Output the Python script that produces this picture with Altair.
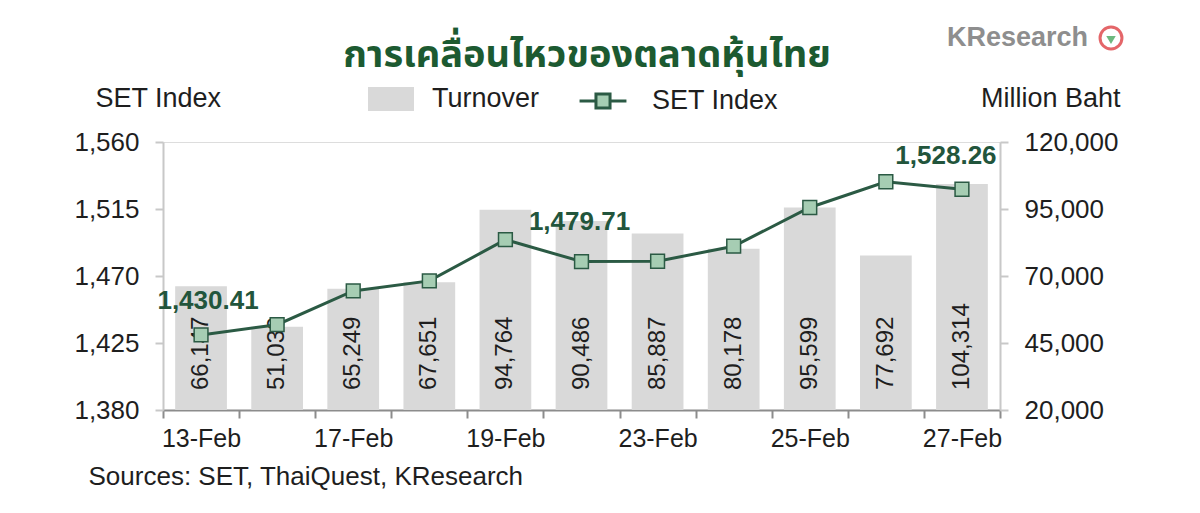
import altair as alt
import pandas as pd

dates = ["13-Feb", "16-Feb", "17-Feb", "18-Feb", "19-Feb", "20-Feb",
         "23-Feb", "24-Feb", "25-Feb", "26-Feb", "27-Feb"]
turnover = [66147, 51039, 65249, 67651, 94764, 90486, 85887, 80178, 95599, 77692, 104314]
set_index = [1430.41, 1437.3, 1460.0, 1466.7, 1494.4, 1479.71, 1479.9, 1490.0, 1516.0, 1533.3, 1528.26]
shown_dates = ["13-Feb", "17-Feb", "19-Feb", "23-Feb", "25-Feb", "27-Feb"]
left_ticks = [1380, 1425, 1470, 1515, 1560]
right_ticks = [20000, 45000, 70000, 95000, 120000]
annotated_dates = ["13-Feb", "20-Feb", "27-Feb"]

df = pd.DataFrame({
    "date": dates,
    "turnover": turnover,
    "set": set_index,
})
df["turnover_label"] = [f"{v:,}" for v in turnover]
df["set_label"] = [f"{v:,.2f}" for v in set_index]
df["bar_series"] = "Turnover"
df["line_series"] = "SET Index"

FONT = "Liberation Sans, Arial, sans-serif"
GREEN = "#2b5a44"
TXT = "#1e1e1e"
W, H = 837, 268

label_expr = "indexof(" + str(shown_dates) + ", datum.value) >= 0 ? datum.value : ''"

x_enc = alt.X(
    "date:N", sort=dates,
    scale=alt.Scale(paddingInner=0, paddingOuter=0),
    axis=alt.Axis(
        labelExpr=label_expr, labelAngle=0, labelFontSize=25, labelColor=TXT,
        labelFont=FONT, labelPadding=8, tickBand="extent", tickSize=8, tickWidth=2,
        tickColor="#8c8c8c", domainColor="#8c8c8c", domainWidth=2,
        title="Sources: SET, ThaiQuest, KResearch", titleFont=FONT, titleFontSize=26,
        titleFontWeight="normal", titleColor=TXT, titleAnchor="start", titleAlign="left",
        titleX=-75, titleY=66, titleBaseline="middle",
    ),
)

bars = alt.Chart(df).mark_bar(color="#d9d9d9", width=alt.RelativeBandSize(0.68)).encode(
    x=x_enc,
    y=alt.Y("turnover:Q", scale=alt.Scale(domain=[20000, 120000], zero=False, nice=False),
            axis=alt.Axis(orient="right", values=right_ticks, format=",.0f", grid=False,
                          labelFontSize=26, labelColor=TXT, labelFont=FONT, labelPadding=16,
                          tickSize=8, tickColor="#c8c8c8", tickWidth=2,
                          domainColor="#c8c8c8", domainWidth=2,
                          title="Million Baht", titleAngle=0, titleAlign="right",
                          titleBaseline="middle", titleX=120, titleY=-44,
                          titleFont=FONT, titleFontSize=27, titleFontWeight="normal",
                          titleColor=TXT)),
    y2=alt.datum(20000),
    color=alt.Color("bar_series:N", scale=alt.Scale(domain=["Turnover"], range=["#d9d9d9"]),
                    legend=alt.Legend(orient="none", legendX=205, legendY=-66, title=None,
                                      padding=0, symbolType="M-1,-0.52H1V0.52H-1Z",
                                      symbolSize=2116, symbolStrokeWidth=0, labelOffset=18,
                                      labelFontSize=27, labelFont=FONT, labelColor=TXT)),
)

bar_labels = alt.Chart(df).mark_text(
    angle=270, align="left", baseline="middle", dx=20, dy=0, fontSize=24, font=FONT, color=TXT
).encode(
    x=alt.X("date:N", sort=dates),
    y=alt.datum(20000),
    text="turnover_label:N",
)

line = alt.Chart(df).mark_line(
    strokeWidth=3,
    point=alt.OverlayMarkDef(shape="square", size=190, filled=True, fill="#a6cdb3",
                             strokeWidth=1.5),
).encode(
    x=alt.X("date:N", sort=dates),
    y=alt.Y("set:Q", scale=alt.Scale(domain=[1380, 1560], zero=False, nice=False),
            axis=alt.Axis(orient="left", values=left_ticks, format=",.0f", grid=False,
                          labelFontSize=26, labelColor=TXT, labelFont=FONT, labelPadding=16,
                          tickSize=8, tickColor="#c8c8c8", tickWidth=2,
                          domainColor="#c8c8c8", domainWidth=2,
                          title="SET Index", titleAngle=0, titleAlign="left",
                          titleBaseline="middle", titleX=-68, titleY=-44,
                          titleFont=FONT, titleFontSize=27, titleFontWeight="normal",
                          titleColor=TXT)),
    stroke=alt.Stroke("line_series:N", scale=alt.Scale(domain=["SET Index"], range=[GREEN]),
                      legend=alt.Legend(orient="none", legendX=415, legendY=-66, title=None,
                                        padding=0,
                                        symbolType="M-1,0H-0.3M0.3,0H1M-0.3,-0.3H0.3V0.3H-0.3Z",
                                        symbolSize=2200, symbolStrokeWidth=3,
                                        symbolFillColor="#a6cdb3", labelOffset=24,
                                        labelFontSize=27, labelFont=FONT, labelColor=TXT)),
)

offsets = {"13-Feb": (7, -34, "center"), "20-Feb": (-2, -40, "center"), "27-Feb": (-16, -33, "center")}
value_labels = []
for d in annotated_dates:
    dx, dy, al = offsets[d]
    value_labels.append(
        alt.Chart(df).transform_filter(alt.datum.date == d).mark_text(
            dx=dx, dy=dy, align=al, baseline="middle", fontSize=26, fontWeight="bold",
            font=FONT, color="#22553c"
        ).encode(
            x=alt.X("date:N", sort=dates),
            y=alt.Y("set:Q", scale=alt.Scale(domain=[1380, 1560], zero=False, nice=False)),
            text="set_label:N",
        )
    )

logo_text = alt.Chart(df).transform_filter(alt.datum.date == "13-Feb").mark_text(
    text="KResearch", align="right", baseline="middle", fontSize=27, fontWeight="bold",
    font="Liberation Sans Narrow, Liberation Sans, sans-serif", color="#8e8e8e"
).encode(x=alt.value(925), y=alt.value(-104))

logo_ring = alt.Chart(df).transform_filter(alt.datum.date == "13-Feb").mark_point(
    shape="circle", size=480, filled=False, stroke="#d9262b", strokeWidth=3
).encode(x=alt.value(948), y=alt.value(-104))

logo_leaf = alt.Chart(df).transform_filter(alt.datum.date == "13-Feb").mark_point(
    shape="triangle-down", size=90, filled=True, fill="#2f9a48", strokeWidth=0
).encode(x=alt.value(948), y=alt.value(-102))

title_text = alt.Chart(df).transform_filter(alt.datum.date == "13-Feb").mark_text(
    text="การเคลื่อนไหวของตลาดหุ้นไทย", align="center", baseline="middle", fontSize=38,
    fontWeight="bold", font="Noto Sans Thai, Tahoma, DejaVu Sans, sans-serif", color="#1c5a31"
).encode(x=alt.value(424), y=alt.value(-86))

left_group = alt.layer(bars, bar_labels)
right_group = alt.layer(line, *value_labels)

chart = alt.layer(left_group, right_group, logo_text, logo_ring, logo_leaf, title_text).resolve_scale(
    y="independent", color="independent"
).properties(
    width=W, height=H,
    autosize=alt.AutoSizeParams(type="none"),
    padding={"left": 155, "top": 134, "right": 184, "bottom": 95},
).configure_view(stroke=None).configure(background="white")

chart.save("out.html", embed_options={"renderer": "svg", "actions": False})
